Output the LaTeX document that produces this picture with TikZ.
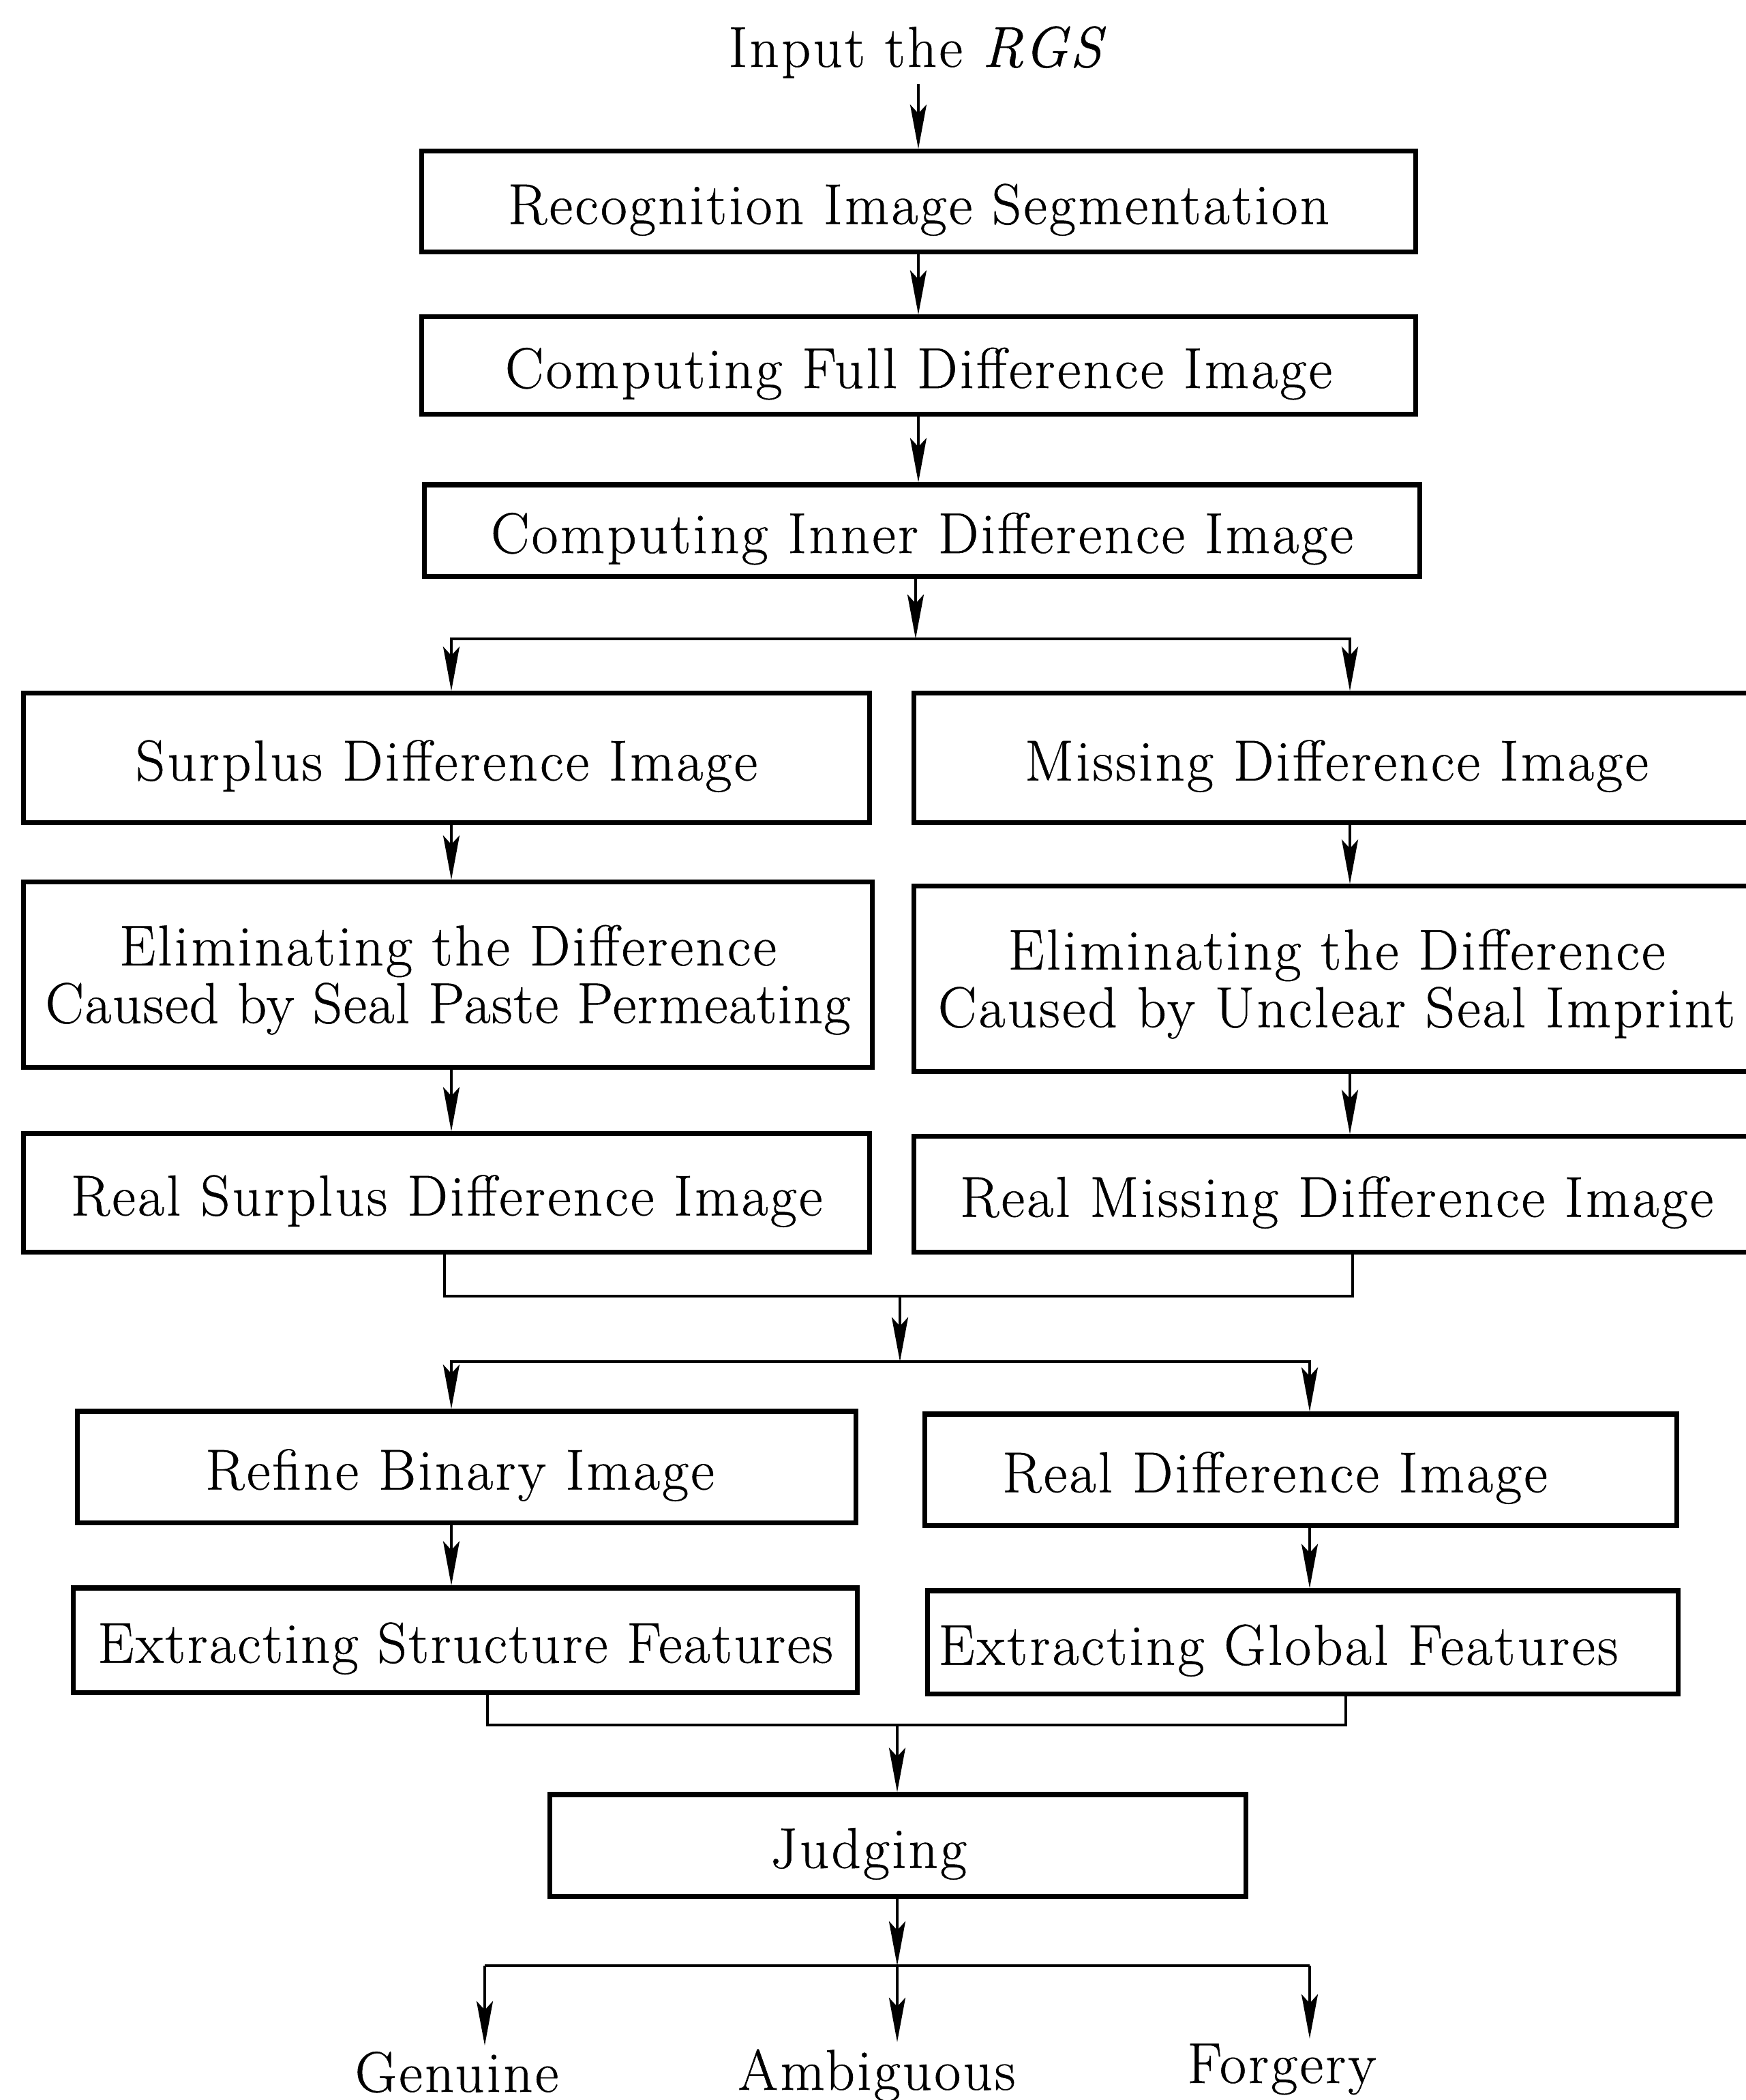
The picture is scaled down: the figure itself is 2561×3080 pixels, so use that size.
\documentclass[tikz,border=0pt]{standalone}
\usepackage{fontspec}
\setmainfont{Latin Modern Roman}[LetterSpace=4.0,FakeBold=0.6]
\newfontfamily\tightfont{Latin Modern Roman}[LetterSpace=2.0,FakeBold=0.6]
\newfontfamily\midfont{Latin Modern Roman}[LetterSpace=3.0,FakeBold=0.6]
\usetikzlibrary{arrows.meta}
\begin{document}
\begin{tikzpicture}[x=0.01cm,y=-0.01cm,
  box/.style={draw,line width=2pt,rectangle,inner sep=0pt,align=center,font=\fontsize{24}{24}\selectfont,text height=23.5pt,text depth=4.7pt},
  twoline/.style={text height=45pt,text depth=4.7pt},
  lbl/.style={inner sep=0pt,font=\fontsize{24}{24}\selectfont},
  conn/.style={line width=1.2pt},
  arr/.style={line width=1.2pt,-{Stealth[length=6.5mm,width=2.4mm,inset=1.3mm]}}]
\useasboundingbox (0,0) rectangle (2561,3080);
\clip (0,0) rectangle (2561,3080);
% nodes
\node[lbl,anchor=base] (in) at (1347,98) {Input the \textit{RGS}};
\node[box,minimum width=14.57cm,minimum height=1.47cm] (b1) at (1347.5,295.5) {Recognition Image Segmentation};
\node[box,minimum width=14.57cm,minimum height=1.42cm] (b2) at (1347.5,536) {Computing Full Difference Image};
\node[box,minimum width=14.59cm,minimum height=1.34cm] (b3) at (1352.5,778) {Computing Inner Difference Image};
\node[box,minimum width=12.40cm,minimum height=1.89cm] (b4L) at (655,1111.5) {Surplus Difference Image};
\node[box,minimum width=12.39cm,minimum height=1.89cm] (b4R) at (1960.5,1111.5) {Missing Difference Image};
\node[box,twoline,minimum width=12.44cm,minimum height=2.71cm] (b5L) at (657,1429.5) {Eliminating the Difference\\{\tightfont Caused by Seal Paste Permeating}};
\node[box,twoline,minimum width=12.39cm,minimum height=2.71cm] (b5R) at (1960.5,1435.5) {Eliminating the Difference\\Caused by Unclear Seal Imprint};
\node[box,minimum width=12.40cm,minimum height=1.73cm] (b6L) at (655,1749.5) {Real Surplus Difference Image};
\node[box,minimum width=12.39cm,minimum height=1.69cm] (b6R) at (1960.5,1751.5) {Real Missing Difference Image};
\node[box,minimum width=11.41cm,minimum height=1.63cm] (b7L) at (684.5,2151.5) {Refine Binary Image\hspace*{0.2cm}};
\node[box,minimum width=11.02cm,minimum height=1.63cm] (b7R) at (1908,2155.5) {Real Difference Image\hspace*{0.76cm}};
\node[box,minimum width=11.49cm,minimum height=1.53cm] (b8L) at (682.5,2405.5) {\midfont Extracting Structure Features};
\node[box,minimum width=11.00cm,minimum height=1.51cm] (b8R) at (1911,2408.5) {Extracting Global Features\hspace*{0.72cm}};
\node[box,minimum width=10.20cm,minimum height=1.49cm] (jd) at (1317,2706.5) {Judging\hspace*{0.86cm}};
\node[lbl,anchor=base] (gen) at (670,3068) {Genuine};
\node[lbl,anchor=base] (amb) at (1286,3065) {Ambiguous};
\node[lbl,anchor=base] (forg) at (1880,3055) {Forgery};
% coordinates
\coordinate (xL) at (662,0);
\coordinate (xR) at (1980,0);
\coordinate (j1) at (1343,937);
\coordinate (m1L) at (652,1901);
\coordinate (m1R) at (1984,1901);
\coordinate (m1) at (1320,1901);
\coordinate (j2) at (1320,1997);
\coordinate (x2L) at (662,0);
\coordinate (x2R) at (1921,0);
\coordinate (m2L) at (715,2530);
\coordinate (m2R) at (1974,2530);
\coordinate (m2) at (1316,2530);
\coordinate (j3) at (1316,2883);
\coordinate (e1) at (711,3000);
\coordinate (e2) at (1316,2995);
\coordinate (e3) at (1921,2990);
% connectors
\draw[arr] (in.south) ++(0,8) coordinate (ins) -- (ins |- b1.north);
\draw[arr] (b1.south -| in) -- (b2.north -| in);
\draw[arr] (b2.south -| in) -- (b3.north -| in);
\draw[arr] (b3.south -| j1) -- (j1);
\draw[arr] (j1) -| (xL |- b4L.north);
\draw[arr] (j1) -| (xR |- b4R.north);
\draw[arr] (b4L.south -| xL) -- (b5L.north -| xL);
\draw[arr] (b4R.south -| xR) -- (b5R.north -| xR);
\draw[arr] (b5L.south -| xL) -- (b6L.north -| xL);
\draw[arr] (b5R.south -| xR) -- (b6R.north -| xR);
\draw[conn] (b6L.south -| m1L) -- (m1L) -- (m1R) -- (b6R.south -| m1R);
\draw[arr] (m1) -- (j2);
\draw[arr] (j2) -| (x2L |- b7L.north);
\draw[arr] (j2) -| (x2R |- b7R.north);
\draw[arr] (b7L.south -| x2L) -- (b8L.north -| x2L);
\draw[arr] (b7R.south -| x2R) -- (b8R.north -| x2R);
\draw[conn] (b8L.south -| m2L) -- (m2L) -- (m2R) -- (b8R.south -| m2R);
\draw[arr] (m2) -- (jd.north -| m2);
\draw[arr] (jd.south -| j3) -- (j3);
\draw[conn] (j3 -| e1) -- (j3 -| e3);
\draw[arr] (j3 -| e1) -- (e1);
\draw[arr] (j3) -- (e2);
\draw[arr] (j3 -| e3) -- (e3);
\end{tikzpicture}
\end{document}
